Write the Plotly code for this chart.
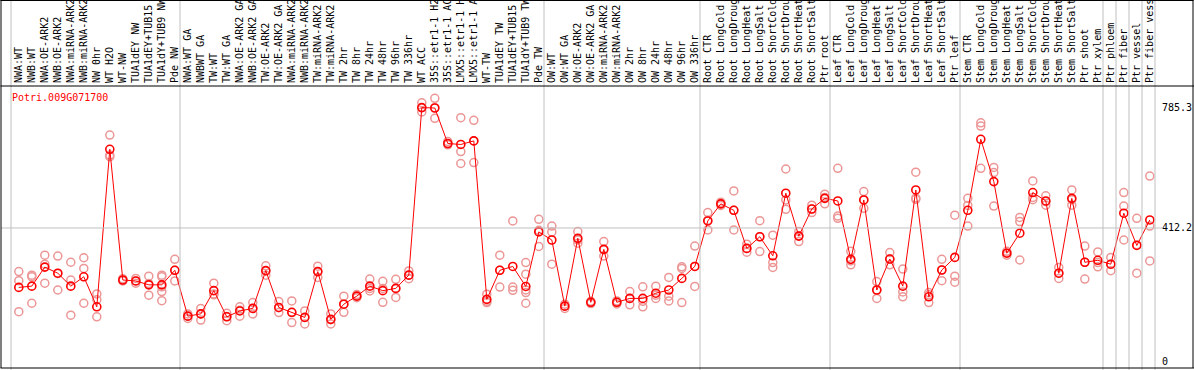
import plotly.graph_objects as go

gene_id = "Potri.009G071700"

categories = [
    "NWA:WT", "NWB:WT", "NWA:OE-ARK2", "NWB:OE-ARK2", "NWA:miRNA-ARK2", "NWB:miRNA-ARK2",
    "NW 0hr", "WT H2O", "WT-NW", "TUA1dEY NW", "TUA1dEY+TUB15", "TUA1dY+TUB9 NW", "Pde NW",
    "NWA:WT GA", "NWBWT GA", "TW:WT", "TW:WT GA", "NWA:OE-ARK2 GA", "NWB:OE-ARK2 GA",
    "TW:OE-ARK2", "TW:OE-ARK2 GA", "NWA:miRNA-ARK2", "NWB:miRNA-ARK2", "TW:miRNA-ARK2",
    "TW:miRNA-ARK2", "TW 2hr", "TW 8hr", "TW 24hr", "TW 48hr", "TW 96hr", "TW 336hr", "WT ACC",
    "35S::etr1-1 H2O", "35S::etr1-1 ACC", "LMX5::etr1-1 H2O", "LMX5::etr1-1 ACC", "WT-TW",
    "TUA1dEY TW", "TUA1dEY+TUB15", "TUA1dY+TUB9 TW", "Pde TW",
    "OW:WT", "OW:WT GA", "OW:OE-ARK2", "OW:OE-ARK2 GA", "OW:miRNA-ARK2", "OW:miRNA-ARK2",
    "OW 2hr", "OW 8hr", "OW 24hr", "OW 48hr", "OW 96hr", "OW 336hr",
    "Root CTR", "Root LongCold", "Root LongDrought", "Root LongHeat", "Root LongSalt",
    "Root ShortCold", "Root ShortDrought", "Root ShortHeat", "Root ShortSalt", "Ptr root",
    "Leaf CTR", "Leaf LongCold", "Leaf LongDrought", "Leaf LongHeat", "Leaf LongSalt",
    "Leaf ShortCold", "Leaf ShortDrought", "Leaf ShortHeat", "Leaf ShortSalt", "Ptr leaf",
    "Stem CTR", "Stem LongCold", "Stem LongDrought", "Stem LongHeat", "Stem LongSalt",
    "Stem ShortCold", "Stem ShortDrought", "Stem ShortHeat", "Stem ShortSalt", "Ptr shoot",
    "Ptr xylem", "Ptr phloem", "Ptr fiber", "Ptr vessel", "Ptr fiber vessel",
]

means = [
    228, 232, 291, 272, 232, 261, 168, 656, 251, 248, 236, 236, 281,
    139, 146, 218, 137, 155, 163, 280, 166, 151, 135, 277, 129, 176, 201, 232, 218, 225,
    266, 785.3, 784, 674, 671, 682, 191, 281, 293, 231, 400,
    375, 170, 380, 182, 346, 182, 194, 194, 210, 220, 256, 293,
    434, 487, 467, 349, 385, 326, 520, 387, 471, 504,
    496, 315, 499, 220, 316, 232, 530, 199, 282, 321,
    467, 687, 556, 334, 396, 522, 496, 272, 504, 306, 312,
    300, 458, 358, 437,
]

replicates = [
    [277, 249, 153], [266, 261, 179], [328, 300, 241], [325, 271, 220], [306, 251, 142],
    [320, 287, 179], [208, 190, 137], [700, 638, 633], [255, 250, 248], [256, 248, 241],
    [263, 240, 204], [266, 261, 230, 215, 187], [315, 281, 248],
    [146, 139, 132], [163, 146, 127], [241, 208, 205], [148, 138, 125], [168, 157, 139],
    [181, 163, 146], [295, 279, 266], [184, 165, 150], [186, 150, 119], [155, 136, 115],
    [294, 277, 259], [146, 128, 115], [201, 176, 151], [206, 201, 196], [254, 225, 217],
    [247, 225, 182], [253, 225, 197], [279, 266, 255], [800, 785, 772], [814, 785, 752],
    [680, 673, 670], [754, 649, 612], [746, 682, 615], [207, 185, 181], [328, 281, 229],
    [434, 229, 219], [305, 269, 220, 212, 179], [439, 405, 355],
    [418, 400, 300], [176, 170, 163], [401, 375, 365], [185, 182, 178], [370, 345, 325],
    [186, 182, 177], [215, 194, 174], [230, 185, 168], [232, 204, 194], [259, 201, 186],
    [292, 287, 181], [356, 293, 231],
    [460, 436, 406], [492, 487, 482], [527, 467, 406], [362, 349, 337], [435, 385, 339],
    [390, 305, 290], [595, 499, 470], [401, 388, 370], [483, 471, 460], [517, 507, 487],
    [597, 449, 442], [340, 310, 298], [525, 499, 473], [246, 220, 194], [336, 316, 298],
    [285, 214, 199], [585, 505, 501], [212, 205, 181], [315, 282, 249], [452, 263, 244],
    [504, 482, 418], [738, 728, 597], [600, 584, 480], [340, 334, 328], [445, 432, 313],
    [558, 507, 500], [512, 494, 483], [290, 272, 256], [530, 500, 483], [356, 306, 254],
    [338, 305, 292],
    [321, 300, 280], [522, 480, 375], [442, 360, 272], [573, 418, 310],
]

# last category index of each group (separator drawn after it)
group_ends = [12, 40, 52, 62, 72, 83, 84, 85, 86, 87]

y_ticks = [0, 412.2, 785.3]

# ---------------------------------------------------------------------------
W, H = 1194, 370
ML, MR, MT, MB = 11, 39, 86, 2
plot_w = W - ML - MR
plot_h = H - MT - MB
X0 = -0.6
X1 = X0 + plot_w / 13.0
Y0, Y1 = -21.7, 852.2

xs = list(range(len(categories)))
rep_x, rep_y = [], []
for i, reps in enumerate(replicates):
    for v in reps:
        rep_x.append(i)
        rep_y.append(v)

MONO = "DejaVu Sans Mono"
GRAY = "#c0c0c0"

fig = go.Figure()
fig.add_trace(go.Scatter(
    x=rep_x, y=rep_y, mode="markers",
    marker=dict(symbol="circle-open", size=8, color="rgb(236,150,150)",
                line=dict(width=1.5, color="rgb(236,150,150)")),
    hoverinfo="skip", showlegend=False, cliponaxis=False,
))
fig.add_trace(go.Scatter(
    x=xs, y=means, mode="lines+markers",
    line=dict(color="#ff0000", width=1),
    marker=dict(symbol="circle-open", size=8, color="#ff0000",
                line=dict(width=1.6, color="#ff0000")),
    showlegend=False, cliponaxis=False,
))


def px_x(px):
    return (px - ML) / plot_w


def px_y(py):
    return (H - MB - py) / plot_h


def data_x(k):
    return (k - X0) / (X1 - X0)


def data_y(v):
    return (v - Y0) / (Y1 - Y0)


shapes = []
# group separators (full height including header)
shapes.append(dict(type="line", xref="paper", yref="paper",
                   x0=0, x1=0, y0=px_y(H), y1=px_y(0),
                   line=dict(color=GRAY, width=1)))
for k in group_ends:
    xp = data_x(k + 0.4)
    shapes.append(dict(type="line", xref="paper", yref="paper",
                       x0=xp, x1=xp, y0=px_y(H), y1=px_y(0),
                       line=dict(color=GRAY, width=1)))
# horizontal reference line at middle tick
shapes.append(dict(type="line", xref="paper", yref="paper",
                   x0=px_x(1), x1=px_x(1163), y0=data_y(y_ticks[1]), y1=data_y(y_ticks[1]),
                   line=dict(color=GRAY, width=1)))
# black frame
for (x0, y0, x1, y1) in [(0.5, 0.5, W - 0.5, 0.5), (0.5, MT, W, MT),
                         (0.5, H - MB, W, H - MB), (1, 0, 1, H - MB),
                         (W - 1, 0, W - 1, H - MB)]:
    shapes.append(dict(type="line", xref="paper", yref="paper",
                       x0=px_x(x0), x1=px_x(x1), y0=px_y(y0), y1=px_y(y1),
                       line=dict(color="black", width=1)))

fig.update_layout(
    width=W, height=H,
    margin=dict(l=ML, r=MR, t=MT, b=MB, pad=0),
    paper_bgcolor="white", plot_bgcolor="white",
    shapes=shapes,
    xaxis=dict(
        range=[X0, X1], side="top", tickmode="array", tickvals=xs, ticktext=categories,
        tickangle=-90, showgrid=False, zeroline=False, showline=False, ticks="",
        tickfont=dict(family=MONO, size=10, color="black"), automargin=False,
        ticklabelstandoff=2,
    ),
    yaxis=dict(
        range=[Y0, Y1], side="right", tickmode="array", tickvals=y_ticks,
        ticktext=[str(v) for v in y_ticks], showgrid=False, zeroline=False,
        showline=False, ticks="", tickfont=dict(family=MONO, size=10, color="black"),
        automargin=False, ticklabelstandoff=6,
    ),
    annotations=[dict(
        text=gene_id, xref="paper", yref="paper", x=px_x(10), y=px_y(97),
        xanchor="left", yanchor="middle", showarrow=False,
        font=dict(family=MONO, size=10, color="#ff0000"),
    )],
)

fig.write_html(
    "out.html",
    config={"displayModeBar": False},
    post_script="document.body.style.margin='0';document.body.style.padding='0';",
)
